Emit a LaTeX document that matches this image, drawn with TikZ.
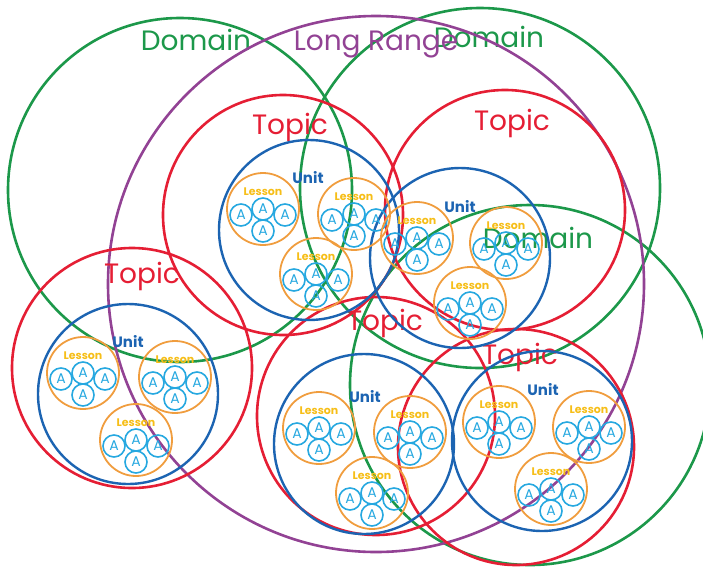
\documentclass[tikz,border=0pt]{standalone}
\usepackage{fontspec}
\setmainfont{Poppins}

\definecolor{domaingreen}{RGB}{28,152,74}
\definecolor{rangepurple}{RGB}{146,66,148}
\definecolor{topicred}{RGB}{229,30,52}
\definecolor{unitblue}{RGB}{28,100,178}
\definecolor{lessonorange}{RGB}{240,157,62}
\definecolor{lessongold}{RGB}{246,190,24}
\definecolor{acyan}{RGB}{38,168,224}

\begin{document}
\begin{tikzpicture}[x=1pt, y=-1pt,
    ring/.style={circle, draw, inner sep=0pt, outer sep=0pt},
    domainring/.style={ring, domaingreen, line width=2.6pt, minimum size=#1},
    rangering/.style={ring, rangepurple, line width=2.6pt, minimum size=#1},
    topicring/.style={ring, topicred, line width=2.6pt, minimum size=#1},
    unitring/.style={ring, unitblue, line width=2.4pt, minimum size=180pt},
    lessonring/.style={ring, lessonorange, line width=1.8pt, minimum size=72pt},
    acirc/.style={ring, acyan, line width=1.6pt, minimum size=22pt, font=\fontsize{14}{14}\selectfont},
    domainlbl/.style={domaingreen, font=\fontsize{28}{28}\selectfont},
    rangelbl/.style={rangepurple, font=\fontsize{28}{28}\selectfont},
    topiclbl/.style={topicred, font=\fontsize{28}{28}\selectfont},
    unitlbl/.style={unitblue, font=\bfseries\fontsize{15}{15}\selectfont},
    lessonlbl/.style={lessongold, font=\bfseries\fontsize{11}{11}\selectfont},
    lesson/.pic={
        \node[lessonring] (-ring) at (0,0) {};
        \node[lessonlbl] (-lbl) at (0,-17) {Lesson};
        \foreach \ax/\ay [count=\i] in {0/0,-22/6,22/6,0/22}
            \node[acirc] (-a\i) at (\ax,\ay) {A};
    }]
    \useasboundingbox (0,0) rectangle (703,571);

    % Domains
    \node[domainring=344pt] (dom1) at (180,190) {};
    \node[domainring=360pt] (dom2) at (480,188) {};
    \node[domainring=360pt] (dom3) at (530,385) {};
    \node[domainlbl] (dom1lbl) at (196,40) {Domain};
    \node[domainlbl] (dom2lbl) at (489,37) {Domain};
    \node[domainlbl] (dom3lbl) at (538,238) {Domain};

    % Long range
    \node[rangering=536pt] (lr) at (376,284) {};
    \node[rangelbl] (lrlbl) at (376,45) {Long Range};

    % Topics
    \node[topicring=240pt] (top1) at (283,215) {};
    \node[topicring=240pt] (top2) at (505,210) {};
    \node[topicring=240pt] (top3) at (132,368) {};
    \node[topicring=238pt] (top4) at (376,416) {};
    \node[topicring=236pt] (top5) at (516,447) {};
    \node[topiclbl] (top1lbl) at (290,127) {Topic};
    \node[topiclbl] (top2lbl) at (512,123) {Topic};
    \node[topiclbl] (top3lbl) at (142,276) {Topic};
    \node[topiclbl] (top4lbl) at (385,323) {Topic};
    \node[topiclbl] (top5lbl) at (520,357) {Topic};

    % Units
    \node[unitring] (unit1) at (309,230) {};
    \node[unitring] (unit2) at (460,258) {};
    \node[unitring] (unit3) at (128,394) {};
    \node[unitring] (unit4) at (364,444) {};
    \node[unitring] (unit5) at (542,441) {};
    \node[unitlbl] (unit1lbl) at (308,178) {Unit};
    \node[unitlbl] (unit2lbl) at (460,207) {Unit};
    \node[unitlbl] (unit3lbl) at (128,342) {Unit};
    \node[unitlbl] (unit4lbl) at (365,397) {Unit};
    \node[unitlbl] (unit5lbl) at (543,390) {Unit};

    % Lessons
    \pic (u1l1) at (263,209) {lesson};
    \pic (u1l2) at (354,214) {lesson};
    \pic (u1l3) at (316,274) {lesson};
    \pic (u2l1) at (417,238) {lesson};
    \pic (u2l2) at (506,243) {lesson};
    \pic (u2l3) at (470,303) {lesson};
    \pic (u3l1) at (83,373) {lesson};
    \pic (u3l2) at (175,377) {lesson};
    \pic (u3l3) at (136,440) {lesson};
    \pic (u4l1) at (319,428) {lesson};
    \pic (u4l2) at (410,432) {lesson};
    \pic (u4l3) at (372,493) {lesson};
    \pic (u5l1) at (499,422) {lesson};
    \pic (u5l2) at (589,427) {lesson};
    \pic (u5l3) at (551,489) {lesson};
\end{tikzpicture}
\end{document}
